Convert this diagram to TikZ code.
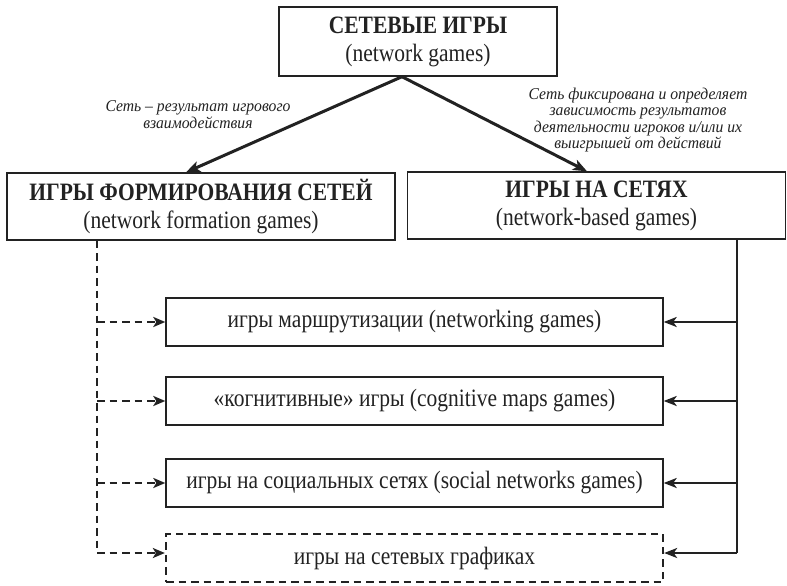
\documentclass[tikz,border=0pt]{standalone}
\usepackage{fontspec}
\setmainfont{Liberation Serif}
\newfontfamily\boxfont{Liberation Serif}[FakeStretch=0.86]
\newfontfamily\lblfont{Liberation Serif}[FakeStretch=0.95]
\usetikzlibrary{arrows.meta}
\definecolor{ink}{HTML}{222222}
\begin{document}
\begin{tikzpicture}[x=1pt,y=-1pt,
  box/.style={draw=ink, line width=1.4pt, inner sep=0pt, align=center, text=ink,
    font=\boxfont\fontsize{25}{28}\selectfont},
  cbox/.style={box, minimum width=497pt, minimum height=48pt},
  lbl/.style={align=center, inner sep=0pt, text=ink,
    font=\lblfont\itshape\fontsize{16.5}{16.5}\selectfont},
  mainarrow/.style={draw=ink, line width=3pt, -{Stealth[length=14pt,width=11pt,inset=3.5pt]}},
  dasharrow/.style={draw=ink, line width=2.4pt, dash pattern=on 7.5pt off 5pt,
    -{Stealth[length=12pt,width=10pt,inset=3pt]}},
  dashline/.style={draw=ink, line width=2.3pt, dash pattern=on 7.5pt off 5pt},
  solidarrow/.style={draw=ink, line width=2.9pt, -{Stealth[length=13pt,width=10pt,inset=3.5pt]}},
  thinline/.style={draw=ink, line width=1.5pt}
]
\useasboundingbox (0,0) rectangle (787,586);

\node[box, minimum width=278pt, minimum height=69pt] (top) at (418,41.5)
  {\textbf{СЕТЕВЫЕ ИГРЫ}\\(network games)};
\node[box, minimum width=388pt, minimum height=67pt] (left) at (201,206.5)
  {\textbf{ИГРЫ ФОРМИРОВАНИЯ СЕТЕЙ}\\(network formation games)};
\node[box, minimum width=378pt, minimum height=67pt] (right) at (596.5,205.5)
  {\textbf{ИГРЫ НА СЕТЯХ}\\(network-based games)};

\node[cbox] (c1) at (414.5,322) {игры маршрутизации (networking games)};
\node[cbox] (c2) at (414.5,401) {«когнитивные» игры (cognitive maps games)};
\node[cbox] (c3) at (414.5,483) {игры на социальных сетях (social networks games)};
\node[cbox, dash pattern=on 7.5pt off 5pt, line width=2.3pt] (c4) at (414.5,558) {игры на сетевых графиках};

\node[lbl] (l1) at (198,114.5) {Сеть – результат игрового\\взаимодействия};
\node[lbl] (l2) at (638,120) {Сеть фиксирована и определяет\\зависимость результатов\\деятельности игроков и/или их\\выигрышей от действий};

\coordinate (apex) at ([xshift=-16pt]top.south);
\draw[mainarrow] (apex) -- ([xshift=-15pt]left.north);
\draw[mainarrow] (apex) -- ([xshift=-9.5pt]right.north);

\coordinate (dl) at (97,553);
\coordinate (dr) at (737,553);
\draw[dashline] (left.south -| dl) -- (dl);
\draw[dasharrow] (dl) -- (c4.west |- dl);
\draw[dasharrow] (c1.west -| dl) -- (c1.west);
\draw[dasharrow] (c2.west -| dl) -- (c2.west);
\draw[dasharrow] (c3.west -| dl) -- (c3.west);

\draw[thinline] (right.south -| dr) -- (dr);
\draw[solidarrow] (dr) -- (c4.east |- dr);
\draw[solidarrow] (c1.east -| dr) -- (c1.east);
\draw[solidarrow] (c2.east -| dr) -- (c2.east);
\draw[solidarrow] (c3.east -| dr) -- (c3.east);
\end{tikzpicture}
\end{document}
